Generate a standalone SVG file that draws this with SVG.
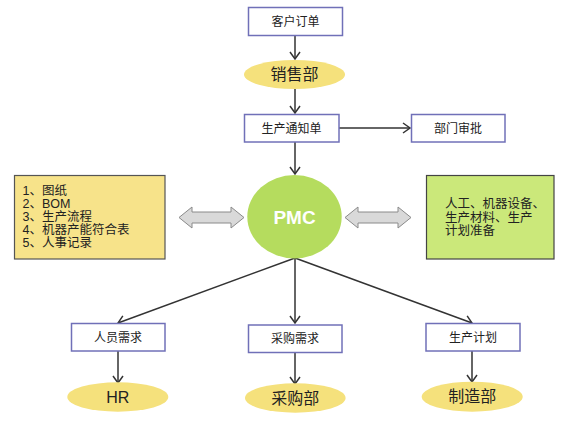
<svg xmlns="http://www.w3.org/2000/svg" width="573" height="424" viewBox="0 0 573 424">
<defs>
<style>
.box{fill:#fff;stroke:#7070b8;stroke-width:1.5}
.ell{fill:#f5e17c}
.t{font-family:"Liberation Sans","Noto Sans CJK SC",sans-serif;fill:#222}
.bt{font-size:12px;text-anchor:middle}
.et{font-size:16px;text-anchor:middle}
.ln{stroke:#333;stroke-width:1.5;fill:none}
.dbl{fill:#d9d9d9;stroke:#8a8a8a;stroke-width:1}
</style>
<marker id="ah" markerWidth="12" markerHeight="12" refX="10" refY="6" orient="auto" markerUnits="userSpaceOnUse">
<path d="M3,1 L10,6 L3,11" fill="none" stroke="#333" stroke-width="1.5"/>
</marker>
</defs>
<rect width="573" height="424" fill="#fff"/>
<g id="connectors">
<line class="ln" x1="295" y1="35" x2="295" y2="59" marker-end="url(#ah)"/>
<line class="ln" x1="295" y1="89" x2="295" y2="113" marker-end="url(#ah)"/>
<line class="ln" x1="339" y1="128" x2="410" y2="128" marker-end="url(#ah)"/>
<line class="ln" x1="295" y1="142" x2="295" y2="174" marker-end="url(#ah)"/>
<line class="ln" x1="295" y1="258" x2="118" y2="323" marker-end="url(#ah)"/>
<line class="ln" x1="295" y1="258" x2="295" y2="323" marker-end="url(#ah)"/>
<line class="ln" x1="295" y1="258" x2="472" y2="323" marker-end="url(#ah)"/>
<line class="ln" x1="118" y1="351" x2="118" y2="383" marker-end="url(#ah)"/>
<line class="ln" x1="295" y1="352" x2="295" y2="384" marker-end="url(#ah)"/>
<line class="ln" x1="472" y1="351" x2="472" y2="382" marker-end="url(#ah)"/>
<path id="dbl-left" class="dbl" d="M179,217.5 L192,207 L192,212 L231,212 L231,207 L244,217.5 L231,228 L231,223 L192,223 L192,228 Z"/>
<path id="dbl-right" class="dbl" d="M345,217.5 L358,207 L358,212 L398,212 L398,207 L411,217.5 L398,228 L398,223 L358,223 L358,228 Z"/>
</g>
<g id="order"><rect class="box" x="248.5" y="7.5" width="94" height="28"/><text class="t bt" x="295.5" y="25.5">客户订单</text></g>
<g id="sales"><ellipse class="ell" cx="294.5" cy="74.5" rx="50.5" ry="14.5"/><text class="t et" x="294.5" y="80">销售部</text></g>
<g id="notice"><rect class="box" x="244.5" y="114.5" width="94.5" height="27.5"/><text class="t bt" x="291.5" y="132.5">生产通知单</text></g>
<g id="approve"><rect class="box" x="411.5" y="114.5" width="93.5" height="27.5"/><text class="t bt" x="458" y="132.5">部门审批</text></g>
<g id="pmc"><ellipse cx="294.5" cy="216.7" rx="47.2" ry="41.7" fill="#b5dc5e"/><text x="294.5" y="223.5" text-anchor="middle" font-family="Liberation Sans,Arial,sans-serif" font-weight="bold" font-size="19" fill="#fff">PMC</text></g>
<g id="docs"><rect x="14.5" y="175.5" width="150.5" height="83.5" fill="#f7e38a" stroke="#555" stroke-width="1.2"/>
<text class="t" font-size="12.5" x="22.5" y="195">1、图纸</text>
<text class="t" font-size="12.5" x="22.5" y="208">2、BOM</text>
<text class="t" font-size="12.5" x="22.5" y="221">3、生产流程</text>
<text class="t" font-size="12.5" x="22.5" y="234">4、机器产能符合表</text>
<text class="t" font-size="12.5" x="22.5" y="247">5、人事记录</text></g>
<g id="prep"><rect x="426.5" y="175.5" width="127.5" height="83.5" fill="#cbe87a" stroke="#444" stroke-width="1.2"/>
<text class="t" font-size="12.5" x="445" y="208">人工、机器设备、</text>
<text class="t" font-size="12.5" x="445" y="221.5">生产材料、生产</text>
<text class="t" font-size="12.5" x="445" y="235">计划准备</text></g>
<g id="staff"><rect class="box" x="71.5" y="323.5" width="93.5" height="27.5"/><text class="t bt" x="118" y="341.5">人员需求</text></g>
<g id="purchase"><rect class="box" x="248.5" y="325" width="93.5" height="27.5"/><text class="t bt" x="295" y="343">采购需求</text></g>
<g id="plan"><rect class="box" x="426" y="323.5" width="94" height="27.5"/><text class="t bt" x="473" y="341.5">生产计划</text></g>
<g id="hr"><ellipse class="ell" cx="117.8" cy="397" rx="50.5" ry="14.7"/><text class="t et" x="117.8" y="402.5">HR</text></g>
<g id="purdept"><ellipse class="ell" cx="295.3" cy="398" rx="50.3" ry="14.7"/><text class="t et" x="295.3" y="403.5">采购部</text></g>
<g id="mfg"><ellipse class="ell" cx="472.2" cy="396.7" rx="50.5" ry="15"/><text class="t et" x="472.2" y="402.2">制造部</text></g>
</svg>
